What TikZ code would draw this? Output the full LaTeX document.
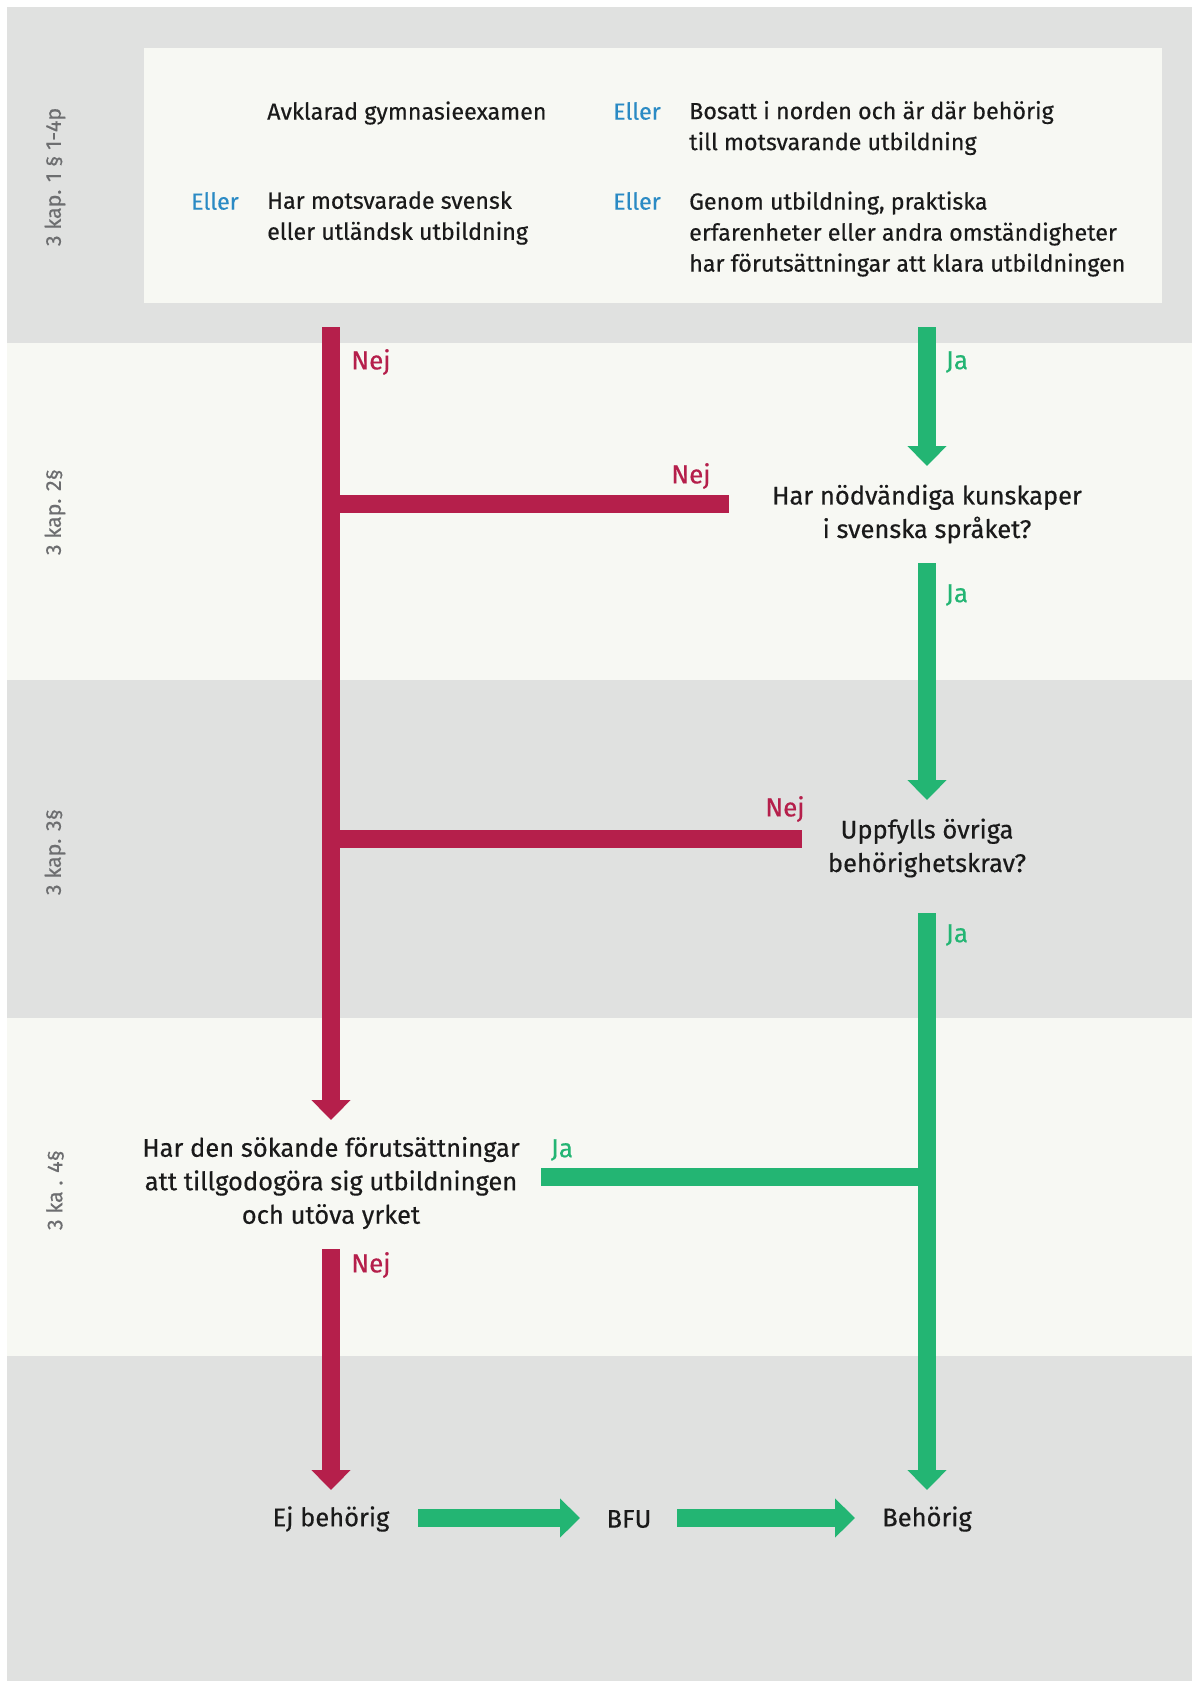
\documentclass[tikz,border=0pt]{standalone}
\usepackage{fontspec}
\setmainfont{Fira Sans}[FakeBold=0.4]
\usetikzlibrary{arrows.meta}

\definecolor{bandgray}{HTML}{E0E1E0}
\definecolor{bandlight}{HTML}{F7F8F3}
\definecolor{nejred}{HTML}{B51F4B}
\definecolor{jagreen}{HTML}{23B573}
\definecolor{ellerblue}{HTML}{2A8AC4}
\definecolor{sidegray}{HTML}{6D6E70}
\definecolor{txt}{HTML}{1A1A1A}

\tikzset{
  body/.style={font=\fontsize{25.5}{33.5}\selectfont, text=txt, align=center, inner sep=0pt},
  boxtext/.style={font=\fontsize{23.3}{31}\selectfont, text=txt, align=left, anchor=west, inner sep=0pt},
  eller/.style={font=\fontsize{23.3}{31}\selectfont, text=ellerblue, anchor=west, inner sep=0pt},
  side/.style={font=\fontsize{21.5}{24}\selectfont, text=sidegray, rotate=90, inner sep=0pt},
  nejlabel/.style={font=\fontsize{26}{28}\selectfont, text=nejred, inner sep=0pt},
  jalabel/.style={font=\fontsize{26}{28}\selectfont, text=jagreen, inner sep=0pt},
  nejline/.style={draw=nejred, line width=18pt},
  jaline/.style={draw=jagreen, line width=18pt},
  nejarrow/.style={nejline, -{Triangle[width=38pt,length=20pt]}},
  jaarrow/.style={jaline, -{Triangle[width=38pt,length=20pt]}},
}

\begin{document}
\begin{tikzpicture}[x=1pt,y=-1pt]
  % 1. Background and bands
  \useasboundingbox (0,0) rectangle (1192,1681);
  \fill[white] (0,0) rectangle (1192,1681);
  \fill[bandgray]  (7,7)    rectangle (1192,343);
  \fill[bandlight] (7,343)  rectangle (1192,680);
  \fill[bandgray]  (7,680)  rectangle (1192,1018);
  \fill[bandlight] (7,1018) rectangle (1192,1356);
  \fill[bandgray]  (7,1356) rectangle (1192,1681);

  % 2. Paragraph labels
  \node[side] (kap1) at (55,177)  {3 kap. 1 § 1-4p};
  \node[side] (kap2) at (55,512)  {3 kap. 2§};
  \node[side] (kap3) at (55,852)  {3 kap. 3§};
  \node[side] (kap4) at (55,1190) {3 ka . 4§};

  % 3. Entry requirements box
  \fill[bandlight] (144,48) rectangle (1162,303);
  \node[boxtext] (gymn)   at (267,113) {Avklarad gymnasieexamen};
  \node[eller]   (eller1) at (613,111) {Eller};
  \node[boxtext] (norden) at (689,128) {Bosatt i norden och är där behörig\\till motsvarande utbildning};
  \node[eller]   (eller2) at (191,201) {Eller};
  \node[boxtext] (motsv)  at (267,218) {Har motsvarade svensk\\eller utländsk utbildning};
  \node[eller]   (eller3) at (613,201) {Eller};
  \node[boxtext] (genom)  at (689,234) {Genom utbildning, praktiska\\erfarenheter eller andra omständigheter\\har förutsättningar att klara utbildningen};

  % 4. Questions and outcomes
  \node[body] (svenska) at (927,514)  {Har nödvändiga kunskaper\\i svenska språket?};
  \node[body] (ovriga)  at (927,848)  {Uppfylls övriga\\behörighetskrav?};
  \node[body] (sokande) at (331,1183) {Har den sökande förutsättningar\\att tillgodogöra sig utbildningen\\och utöva yrket};
  \node[body] (ej)      at (331,1519) {Ej behörig};
  \node[body] (bfu)     at (629,1519) {BFU};
  \node[body] (behorig) at (927,1519) {Behörig};

  % 5. End points of the connectors
  \coordinate (nejtop)  at (331,327);
  \coordinate (nejend)  at (331,1120);
  \coordinate (nejb1)   at (331,504);
  \coordinate (nejb1e)  at (729,504);
  \coordinate (nejb2)   at (331,839);
  \coordinate (nejb2e)  at (802,839);
  \coordinate (nejlow)  at (331,1249);
  \coordinate (nejlowe) at (331,1490);
  \coordinate (jatop)   at (927,327);
  \coordinate (jatope)  at (927,466);
  \coordinate (jamid)   at (927,563);
  \coordinate (jamide)  at (927,800);
  \coordinate (jalow)   at (927,913);
  \coordinate (jalowe)  at (927,1490);
  \coordinate (jajoin)  at (541,1177);
  \coordinate (jajoine) at (927,1177);
  \coordinate (ejout)   at (418,1518);
  \coordinate (bfuin)   at (580,1518);
  \coordinate (bfuout)  at (677,1518);
  \coordinate (behin)   at (855,1518);

  % 6. Nej path
  \draw[nejarrow] (nejtop) -- (nejend);
  \draw[nejline]  (nejb1) -- (nejb1e);
  \draw[nejline]  (nejb2) -- (nejb2e);
  \draw[nejarrow] (nejlow) -- (nejlowe);

  % 7. Ja path
  \draw[jaarrow] (jatop) -- (jatope);
  \draw[jaarrow] (jamid) -- (jamide);
  \draw[jaarrow] (jalow) -- (jalowe);
  \draw[jaline]  (jajoin) -- (jajoine);
  \draw[jaarrow] (ejout) -- (bfuin);
  \draw[jaarrow] (bfuout) -- (behin);

  % 8. Ja / Nej labels
  \node[nejlabel] (nej1) at (371,362)  {Nej};
  \node[nejlabel] (nej2) at (691,476)  {Nej};
  \node[nejlabel] (nej3) at (785,809)  {Nej};
  \node[nejlabel] (nej4) at (371,1265) {Nej};
  \node[jalabel]  (ja1)  at (957,362)  {Ja};
  \node[jalabel]  (ja2)  at (957,595)  {Ja};
  \node[jalabel]  (ja3)  at (957,935)  {Ja};
  \node[jalabel]  (ja4)  at (562,1150) {Ja};
\end{tikzpicture}
\end{document}
